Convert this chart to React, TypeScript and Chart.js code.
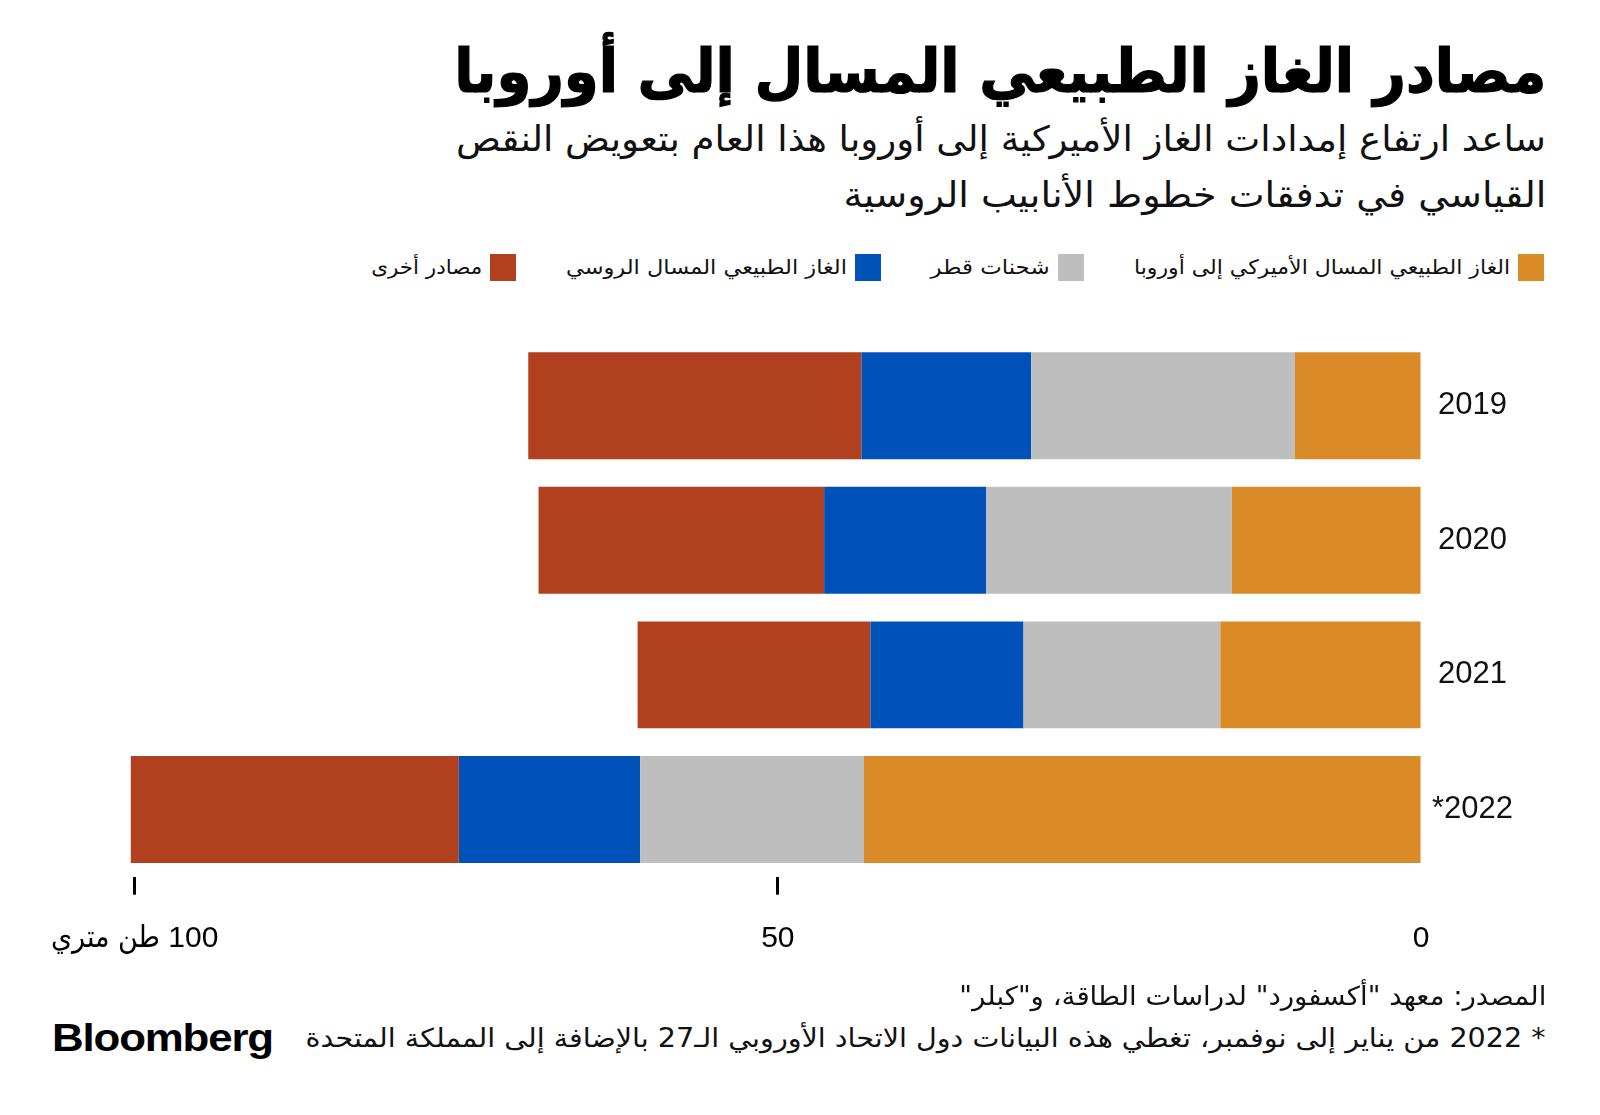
import React, { useEffect, useLayoutEffect, useRef } from 'react';
import { Chart, registerables } from 'chart.js';

Chart.register(...registerables);

// ---------------- data ----------------
const categories = ['2019', '2020', '2021', '*2022'];
const seriesNames = [
  'الغاز الطبيعي المسال الأميركي إلى أوروبا',
  'شحنات قطر',
  'الغاز الطبيعي المسال الروسي',
  'مصادر أخرى',
];
const usLngToEurope = [9.8, 14.7, 15.6, 43.3];
const qatarCargoes = [20.5, 19.1, 15.3, 17.4];
const russianLng = [13.2, 12.6, 11.9, 14.1];
const otherSources = [25.9, 22.2, 18.1, 25.5];
const seriesColors = ['#DA8A26', '#BEBEBE', '#0052B9', '#B1411E'];
const xTickValues = [0, 50, 100];
const xTickLabels = ['0', '50', '100 طن متري'];

const titleText = 'مصادر الغاز الطبيعي المسال إلى أوروبا';
const subtitleLines = [
  'ساعد ارتفاع إمدادات الغاز الأميركية إلى أوروبا هذا العام بتعويض النقص',
  'القياسي في تدفقات خطوط الأنابيب الروسية',
];
const sourceText = 'المصدر: معهد "أكسفورد" لدراسات الطاقة، و"كبلر"';
const noteText = '* 2022 من يناير إلى نوفمبر، تغطي هذه البيانات دول الاتحاد الأوروبي الـ27 بالإضافة إلى المملكة المتحدة';
const brandText = 'Bloomberg';

// ---------------- layout ----------------
const W = 1600;
const H = 1115;
const ARABIC_FONT = "'DejaVu Sans Condensed', 'DejaVu Sans', sans-serif";
const LATIN_FONT = "'Liberation Sans', Arimo, Arial, sans-serif";
const TICK_FONT = "'Liberation Sans', 'DejaVu Sans Condensed', 'DejaVu Sans', sans-serif";
const legendTextWidths = [376, 119, 281, 111];

type FitProps = {
  text: string;
  right?: number;
  left?: number;
  width: number;
  centerY: number;
  size: number;
  weight?: number;
  family: string;
  dir?: 'rtl' | 'ltr';
  color?: string;
  letterSpacing?: number;
  shift?: number;
  stroke?: number;
};

function FitText(p: FitProps) {
  const ref = useRef<HTMLDivElement>(null);
  useLayoutEffect(() => {
    const el = ref.current;
    if (!el) return;
    const fit = () => {
      el.style.transform = 'none';
      const w = el.getBoundingClientRect().width;
      if (w > 0) el.style.transform = `scaleX(${p.width / w})`;
    };
    fit();
    const fonts = (document as any).fonts;
    if (fonts && fonts.ready) fonts.ready.then(fit);
  }, [p.text, p.width]);
  const lh = Math.round(p.size * 1.4);
  const shift = p.shift ?? 0.02 * p.size;
  const style: any = {
    position: 'absolute',
    top: p.centerY - lh / 2 - shift,
    whiteSpace: 'nowrap',
    fontSize: p.size,
    fontWeight: p.weight ?? 400,
    fontFamily: p.family,
    lineHeight: lh + 'px',
    color: p.color ?? '#000',
    letterSpacing: p.letterSpacing ?? 0,
    transformOrigin: p.right !== undefined ? 'right center' : 'left center',
  };
  if (p.stroke) style.WebkitTextStroke = `${p.stroke}px ${p.color ?? '#000'}`;
  if (p.right !== undefined) style.right = W - p.right;
  else style.left = p.left;
  return (
    <div ref={ref} dir={p.dir ?? 'rtl'} style={style}>
      {p.text}
    </div>
  );
}

function Legend() {
  const items: React.ReactNode[] = [];
  let cursor = 1544;
  const boxW = 26;
  const boxH = 27;
  const gapBox = 8;
  const gapItem = 50;
  const cy = 267;
  seriesNames.forEach((name, i) => {
    const boxRight = cursor;
    items.push(
      <div
        key={'b' + i}
        style={{
          position: 'absolute',
          left: boxRight - boxW,
          top: cy - boxH / 2,
          width: boxW,
          height: boxH,
          background: seriesColors[i],
        }}
      />
    );
    const textRight = boxRight - boxW - gapBox;
    items.push(
      <FitText
        key={'t' + i}
        text={name}
        right={textRight}
        width={legendTextWidths[i]}
        centerY={cy}
        size={20}
        family={ARABIC_FONT}
        color="#111"
      />
    );
    cursor = textRight - legendTextWidths[i] - gapItem;
  });
  return <>{items}</>;
}

export default function App() {
  const canvasRef = useRef<HTMLCanvasElement>(null);

  useEffect(() => {
    const canvas = canvasRef.current;
    if (!canvas) return;
    const seriesValues = [usLngToEurope, qatarCargoes, russianLng, otherSources];
    const chart = new Chart(canvas, {
      type: 'bar',
      data: {
        labels: categories,
        datasets: seriesNames.map((name, i) => ({
          label: name,
          data: seriesValues[i],
          backgroundColor: seriesColors[i],
          borderWidth: 0,
          barPercentage: 0.795,
          categoryPercentage: 1.0,
        })),
      },
      options: {
        indexAxis: 'y',
        responsive: false,
        maintainAspectRatio: false,
        animation: false,
        layout: { padding: { top: 38.5, bottom: 17.3, left: 6, right: 0 } },
        plugins: {
          legend: { display: false },
          tooltip: { enabled: false },
          title: { display: false },
        },
        scales: {
          x: {
            type: 'linear',
            stacked: true,
            reverse: true,
            min: 0,
            max: 110,
            position: 'bottom',
            afterBuildTicks: (scale: any) => {
              scale.ticks = xTickValues.map((v) => ({ value: v }));
            },
            ticks: {
              autoSkip: false,
              maxRotation: 0,
              minRotation: 0,
              padding: 26,
              color: '#000',
              font: { size: 30, family: TICK_FONT },
              callback: (value: any) => {
                const i = xTickValues.indexOf(Number(value));
                return i >= 0 ? '\u202B' + xTickLabels[i] + '\u202C' : '';
              },
            },
            grid: {
              display: true,
              drawOnChartArea: false,
              drawTicks: true,
              tickLength: 18,
              tickWidth: 3,
              tickColor: (ctx: any) =>
                ctx.tick && ctx.tick.value === 0 ? 'rgba(0,0,0,0)' : '#000',
            },
            border: { display: false },
          },
          y: {
            stacked: true,
            position: 'right',
            afterFit: (scale: any) => {
              scale.width = 179;
            },
            ticks: {
              crossAlign: 'center',
              padding: 3,
              color: '#111',
              font: { size: 31, family: LATIN_FONT },
            },
            grid: { display: false },
            border: { display: false },
          },
        },
      },
    } as any);
    return () => chart.destroy();
  }, []);

  return (
    <div
      style={{
        position: 'relative',
        width: W,
        height: H,
        background: '#fff',
        overflow: 'hidden',
      }}
    >
      <style>{'html,body{margin:0;padding:0;background:#fff;}'}</style>
      <FitText text={titleText} right={1546} width={1092} centerY={72} size={60} weight={700} family={ARABIC_FONT} stroke={1.2} />
      <FitText text={subtitleLines[0]} right={1546} width={1090} centerY={140} size={35} family={ARABIC_FONT} color="#111" />
      <FitText text={subtitleLines[1]} right={1546} width={703} centerY={196} size={35} family={ARABIC_FONT} color="#111" />
      <Legend />
      <canvas
        ref={canvasRef}
        width={1600}
        height={700}
        style={{ position: 'absolute', left: 0, top: 300, width: 1600, height: 700 }}
      />
      <FitText text={sourceText} right={1546} width={587} centerY={997} size={26} family={ARABIC_FONT} color="#111" />
      <FitText text={noteText} right={1546} width={1240} centerY={1039} size={26} family={ARABIC_FONT} color="#111" />
      <FitText
        text={brandText}
        left={52}
        width={221}
        centerY={1038}
        size={38}
        weight={700}
        family={LATIN_FONT}
        dir="ltr"
        letterSpacing={-1}
        shift={0}
      />
    </div>
  );
}
